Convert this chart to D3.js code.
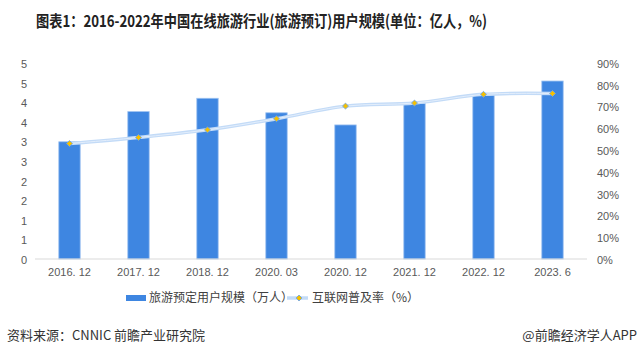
<!DOCTYPE html>
<html><head><meta charset="utf-8">
<script src="https://cdn.jsdelivr.net/npm/d3@7/dist/d3.min.js"></script>
<style>
html,body{margin:0;padding:0;background:#fff;}
svg{display:block;font-family:"Noto Sans CJK SC","Noto Sans",sans-serif;}
</style></head>
<body>
<svg id="c" width="639" height="355"></svg>
<script>
const categories = ["2016. 12","2017. 12","2018. 12","2020. 03","2020. 12","2021. 12","2022. 12","2023. 6"];
const users = [2.99, 3.76, 4.10, 3.73, 3.42, 3.97, 4.20, 4.54];
const penetration = [53.0, 55.8, 59.3, 64.4, 70.2, 71.6, 75.6, 76.0];
const leftTickValues = [0,0.5,1,1.5,2,2.5,3,3.5,4,4.5,5];
const leftTickLabels = ["0","1","1","2","2","3","3","4","4","5","5"];
const rightTickValues = [0,10,20,30,40,50,60,70,80,90];
const titleText = "图表1：2016-2022年中国在线旅游行业(旅游预订)用户规模(单位：亿人，%)";
const legendBar = "旅游预定用户规模（万人）";
const legendLine = "互联网普及率（%）";
const sourceText = "资料来源：CNNIC 前瞻产业研究院";
const brandText = "@前瞻经济学人APP";

const svg = d3.select("#c");
const x = d3.scaleBand().domain(categories).range([35,587]).paddingInner(0.69).paddingOuter(0.345);
const yL = d3.scaleLinear().domain([0,5]).range([259,63]);
const yR = d3.scaleLinear().domain([0,90]).range([259,63]);

// title
svg.append("text").attr("x",36).attr("y",27).attr("font-size",16).attr("font-weight","bold")
  .attr("fill","#222").attr("textLength",451).attr("lengthAdjust","spacingAndGlyphs").text(titleText);

// left axis
const gl = svg.append("g").attr("transform","translate(27,0)")
  .call(d3.axisLeft(yL).tickValues(leftTickValues).tickSize(0).tickPadding(0)
    .tickFormat((d,i)=>leftTickLabels[i]));
gl.select(".domain").remove();
gl.selectAll("text").attr("font-size",11).attr("fill","#595959").attr("dy","0.4em");

// right axis
const gr = svg.append("g").attr("transform","translate(597,0)")
  .call(d3.axisRight(yR).tickValues(rightTickValues).tickSize(0).tickPadding(0)
    .tickFormat(d=>d+"%"));
gr.select(".domain").remove();
gr.selectAll("text").attr("font-size",11).attr("fill","#595959").attr("dy","0.4em");

// bars
svg.append("g").selectAll("rect").data(users).join("rect")
  .attr("x",(d,i)=>x(categories[i])).attr("width",x.bandwidth())
  .attr("y",d=>yL(d)).attr("height",d=>yL(0)-yL(d))
  .attr("fill","#3e86e1").attr("stroke","#9cc2f0").attr("stroke-width",0.8);

// baseline
svg.append("line").attr("x1",35).attr("x2",587).attr("y1",259).attr("y2",259)
  .attr("stroke","#d9d9d9").attr("stroke-width",1);

// x axis labels
const gx = svg.append("g").attr("transform","translate(0,259)")
  .call(d3.axisBottom(x).tickSize(0).tickPadding(9));
gx.select(".domain").remove();
gx.selectAll("text").attr("font-size",11).attr("fill","#595959");

// line
const line = d3.line().x((d,i)=>x(categories[i])+x.bandwidth()/2).y(d=>yR(d))
  .curve(d3.curveCatmullRom.alpha(0.5));
svg.append("path").datum(penetration).attr("d",line).attr("fill","none")
  .attr("stroke","#c3dbf7").attr("stroke-width",3.5);
svg.append("path").datum(penetration).attr("d",line).attr("fill","none")
  .attr("stroke","#e3eefc").attr("stroke-width",1);
const sym = d3.symbol().type(d3.symbolSquare).size(18);
svg.append("g").selectAll("path").data(penetration).join("path")
  .attr("d",sym)
  .attr("transform",(d,i)=>`translate(${x(categories[i])+x.bandwidth()/2},${yR(d)}) rotate(45)`)
  .attr("fill","#f5c000").attr("stroke","#6fa5e6").attr("stroke-width",0.8);

// legend
const lg = svg.append("g");
lg.append("rect").attr("x",126).attr("y",295).attr("width",20).attr("height",6).attr("fill","#3e86e1");
lg.append("text").attr("x",149).attr("y",302).attr("font-size",12).attr("fill","#404040").text(legendBar);
lg.append("line").attr("x1",287).attr("x2",308).attr("y1",298).attr("y2",298).attr("stroke","#c3dbf7").attr("stroke-width",3.5);
lg.append("path").attr("d",sym).attr("transform","translate(299,298) rotate(45)")
  .attr("fill","#f5c000").attr("stroke","#6fa5e6").attr("stroke-width",0.8);
lg.append("text").attr("x",312).attr("y",302).attr("font-size",12).attr("fill","#404040").text(legendLine);

// footer
svg.append("text").attr("x",7).attr("y",340).attr("font-size",13).attr("fill","#333").text(sourceText);
svg.append("text").attr("x",637).attr("y",340).attr("text-anchor","end").attr("font-size",13).attr("fill","#333").text(brandText);
</script>
</body></html>
